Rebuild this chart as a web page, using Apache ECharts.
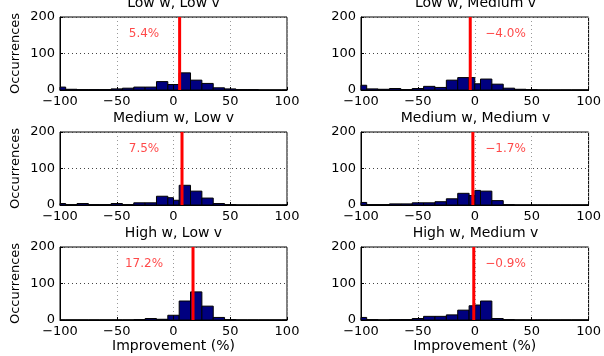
<!DOCTYPE html>
<html>
<head>
<meta charset="utf-8">
<script src="https://cdn.jsdelivr.net/npm/echarts@6/dist/echarts.min.js"></script>
<style>
  html, body { margin: 0; padding: 0; background: #fff; }
  #chart { width: 604px; height: 356px; }
</style>
</head>
<body>
<div id="chart"></div>
<script>
// histogram bin edges (the centre bin is split at 0)
const binEdges = [-105, -95, -85, -75, -65, -55, -45, -35, -25, -15, -5, 0, 5, 15, 25, 35, 45, 55, 65, 75, 85, 95, 105];

const panelTitles = ['Low w, Low v', 'Low w, Medium v', 'Medium w, Low v', 'Medium w, Medium v', 'High w, Low v', 'High w, Medium v'];

// counts per bin, one array per panel
const countsLowLow     = [8, 2, 1, 1, 1, 3, 5, 8, 8, 23, 15, 15, 47, 27, 18, 6, 3, 1, 1, 0, 0, 0];
const countsLowMed     = [13, 3, 2, 4, 1, 4, 10, 7, 27, 34, 34, 17, 30, 16, 5, 2, 1, 0, 0, 0, 0, 0];
const countsMedLow     = [4, 1, 4, 1, 1, 4, 1, 6, 6, 24, 20, 13, 54, 38, 19, 4, 1, 0, 0, 0, 0, 0];
const countsMedMed     = [7, 1, 1, 3, 3, 6, 6, 9, 17, 32, 26, 40, 38, 12, 1, 0, 0, 0, 0, 0, 0, 0];
const countsHighLow    = [0, 0, 0, 0, 0, 0, 0, 1, 4, 2, 13, 13, 52, 77, 38, 7, 1, 0, 0, 0, 0, 0];
const countsHighMed    = [7, 1, 0, 1, 1, 4, 10, 10, 14, 27, 39, 41, 52, 4, 1, 0, 0, 0, 0, 0, 0, 0];
const panelCounts = [countsLowLow, countsLowMed, countsMedLow, countsMedMed, countsHighLow, countsHighMed];

// mean improvement (%) marked by the red line
const meanImprovement = [5.4, -4.0, 7.5, -1.7, 17.2, -0.9];

const xTicks = { min: -100, max: 100, interval: 50 };
const yTicks = { min: 0, max: 200, interval: 100 };

const FONT = 'DejaVu Sans';
const minus = s => String(s).replace('-', '\u2212');

const chart = echarts.init(document.getElementById('chart'));

const grids = [], xAxes = [], yAxes = [], series = [], texts = [];

panelTitles.forEach((title, i) => {
  const row = Math.floor(i / 2), col = i % 2;
  const left = col === 0 ? 60 : 361;
  const width = col === 0 ? 227 : 229;
  const top = 17 + row * 115;
  const height = 73;

  grids.push({ left, top, width, height, show: true, borderColor: '#000', borderWidth: 1, backgroundColor: 'transparent' });

  xAxes.push({
    type: 'value', gridIndex: i, min: xTicks.min, max: xTicks.max, interval: xTicks.interval,
    axisLine: { show: true, onZero: false, lineStyle: { color: '#000', width: 1 } },
    axisTick: { show: true, inside: true, length: 3, lineStyle: { color: '#000' } },
    axisLabel: { color: '#000', fontFamily: FONT, fontSize: 13, margin: 5, formatter: minus },
    splitLine: { show: true, lineStyle: { color: '#999', type: [1, 3], width: 1 } },
    name: row === 2 ? 'Improvement (%)' : '',
    nameLocation: 'middle', nameGap: 18,
    nameTextStyle: { color: '#000', fontFamily: FONT, fontSize: 14 }
  });

  yAxes.push({
    type: 'value', gridIndex: i, min: yTicks.min, max: yTicks.max, interval: yTicks.interval,
    axisLine: { show: true, onZero: false, lineStyle: { color: '#000', width: 1 } },
    axisTick: { show: true, inside: true, length: 3, lineStyle: { color: '#000' } },
    axisLabel: { color: '#000', fontFamily: FONT, fontSize: 13, margin: 5 },
    splitLine: { show: true, lineStyle: { color: '#444', type: [1, 3], width: 1 } },
    name: col === 0 ? 'Occurrences' : '',
    nameLocation: 'middle', nameGap: 38,
    nameTextStyle: { color: '#000', fontFamily: FONT, fontSize: 13 }
  });

  const bins = panelCounts[i].map((c, k) => [binEdges[k], binEdges[k + 1], c]);
  series.push({
    type: 'custom', xAxisIndex: i, yAxisIndex: i, data: bins,
    encode: { x: [0, 1], y: 2 },
    renderItem: (params, api) => {
      const p0 = api.coord([api.value(0), api.value(2)]);
      const p1 = api.coord([api.value(1), 0]);
      const cs = params.coordSys;
      const rect = echarts.graphic.clipRectByRect(
        { x: p0[0], y: p0[1], width: p1[0] - p0[0], height: p1[1] - p0[1] },
        { x: cs.x, y: cs.y, width: cs.width, height: cs.height }
      );
      if (!rect) return null;
      return { type: 'rect', shape: rect, style: { fill: '#000080', stroke: '#000', lineWidth: 1 } };
    }
  });

  const m = meanImprovement[i];
  series.push({
    type: 'line', xAxisIndex: i, yAxisIndex: i, z: 5,
    data: [[m, yTicks.min], [m, yTicks.max]],
    symbol: 'none', lineStyle: { color: '#ff0000', width: 3 }, silent: true
  });

  series.push({
    type: 'scatter', xAxisIndex: i, yAxisIndex: i, z: 6,
    data: [[col === 0 ? -26 : 27, 155]], symbolSize: 0, silent: true,
    label: {
      show: true, position: 'inside', color: '#ff1a1a', fontFamily: FONT, fontSize: 12,
      formatter: () => minus(m.toFixed(1)) + '%'
    }
  });

  texts.push({
    type: 'text', x: left + width / 2, y: top - 14,
    style: { text: title, fill: '#000', font: '14px "' + FONT + '"', textAlign: 'center', textVerticalAlign: 'middle' }
  });
});

chart.setOption({
  animation: false,
  grid: grids,
  xAxis: xAxes,
  yAxis: yAxes,
  series,
  graphic: texts
});
</script>
</body>
</html>
